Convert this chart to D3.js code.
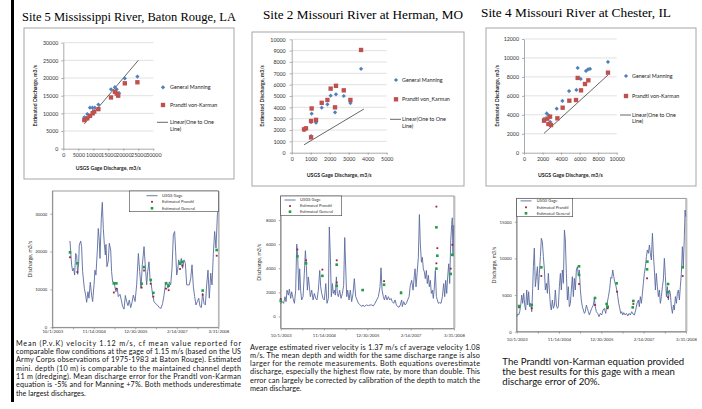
<!DOCTYPE html>
<html>
<head>
<meta charset="utf-8">
<script src="https://cdn.jsdelivr.net/npm/d3@7"></script>
<style>
  body { margin: 0; background: #fff; }
  svg { display: block; }
</style>
</head>
<body>
<script>
// ---- scatter data (gage discharge vs estimated discharge, m3/s) ----
const site5ManningX = [7000, 8000, 8900, 9700, 10500, 9800, 11700, 15900, 17200, 17800, 18600, 20500, 24700];
const site5ManningY = [8900, 9800, 11600, 11600, 11600, 10400, 12500, 16800, 17400, 16800, 15700, 19900, 20400];
const site5PrandtlX = [7000, 8000, 8900, 9800, 10300, 11700, 15900, 17200, 17800, 18300, 20500, 24700];
const site5PrandtlY = [8100, 8600, 9300, 10000, 10500, 11200, 14500, 16100, 15600, 15000, 18500, 18800];
const site5LineX = [7000, 25000];
const site5LineY = [7000, 25000];

const site2GageX = [650, 750, 1020, 1020, 1050, 1280, 1580, 1880, 2050, 2280, 2330, 2740, 3090, 3650];
const site2ManningY = [2000, 2150, 1470, 2700, 3440, 2650, 3970, 4270, 5030, 3560, 5150, 5000, 4380, 7400];
const site2PrandtlY = [2060, 2150, 1350, 2800, 3900, 2900, 4400, 4650, 5650, 4000, 5900, 5500, 4650, 9060];
const site2LineX = [650, 3800];
const site2LineY = [700, 3850];

const site4ManningX = [2160, 2450, 2660, 2840, 3530, 4140, 4860, 5650, 5790, 6120, 6690, 6910, 7120, 9060];
const site4ManningY = [3560, 4150, 3940, 3240, 4650, 5460, 6510, 6620, 8940, 7780, 8630, 8800, 8840, 9580];
const site4PrandtlX = [2160, 2520, 2630, 2810, 2910, 3600, 4170, 4890, 5610, 5790, 6150, 6580, 6940, 9060];
const site4PrandtlY = [3380, 3590, 3030, 3800, 2920, 3630, 4750, 5490, 5560, 7890, 6580, 7250, 7640, 8450];
const site4LineX = [2160, 9060];
const site4LineY = [2040, 8200];

// ---- time series (days after 10/1/2003, discharge m3/s) ----
const seriesTickLabels = ["10/1/2003", "11/14/2004", "12/30/2005", "2/14/2007", "3/31/2008"];

const s5Days = [175, 182, 191, 201, 211, 221, 231, 241, 251, 261,
  267, 281, 290, 300, 317, 330, 340, 353, 363, 376,
  389, 399, 413, 422, 432, 446, 455, 465, 472, 485,
  495, 505, 515, 525, 531, 541, 554, 564, 578, 587,
  597, 611, 620, 630, 644, 653, 670, 683, 696, 710,
  723, 736, 749, 762, 776, 789, 802, 819, 835, 852,
  865, 878, 891, 908, 921, 934, 944, 957, 967, 980,
  993, 1007, 1020, 1040, 1059, 1076, 1092, 1106, 1119, 1132,
  1145, 1158, 1172, 1185, 1198, 1211, 1221, 1231, 1241, 1251,
  1264, 1277, 1290, 1304, 1317, 1330, 1343, 1356, 1370, 1383,
  1396, 1409, 1422, 1436, 1449, 1462, 1475, 1488, 1502, 1515,
  1528, 1541, 1554, 1568, 1581, 1594, 1607, 1620, 1634, 1640];
const s5Flow = [22800, 20000, 16500, 14900, 15600, 13800, 19500, 19000, 14000, 16900,
  21700, 22800, 21300, 14700, 10300, 8500, 6600, 9400, 7700, 11900,
  8500, 6800, 11200, 15100, 13800, 20400, 26100, 23000, 18200, 28800,
  33000, 26100, 21900, 19100, 21900, 16000, 17500, 22200, 20400, 14700,
  12000, 11900, 10700, 9400, 10300, 8100, 8700, 7200, 5500, 4800,
  8400, 6800, 5700, 7200, 5200, 6600, 8500, 6800, 11200, 19500,
  14700, 10300, 16500, 21300, 16000, 11200, 14700, 17300, 12900, 11200,
  8500, 6800, 6300, 5900, 5200, 5000, 6300, 8500, 11200, 12000,
  10300, 12000, 11200, 15600, 24400, 25300, 20000, 13800, 15100, 17800,
  16500, 18200, 15600, 17800, 16900, 11200, 11200, 11200, 12900, 16500,
  10700, 8100, 5900, 6800, 7700, 5500, 5200, 9000, 6300, 5900,
  11200, 15100, 7700, 14300, 11200, 19500, 25300, 20900, 29700, 31000];
const s5MarkDays = [175, 248, 609, 634, 884, 908, 974, 1000, 1125, 1152, 1264, 1287, 1488, 1627];
const s5Prandtl = [18500, 14600, 9200, 10200, 10500, 15000, 11500, 8100, 10200, 9800, 15400, 16300, 8600, 18900];
const s5General = [19800, 16900, 11600, 11600, 11500, 15900, 12500, 9100, 11600, 11000, 16800, 17300, 9700, 20400];

const s2Days = [0, 16, 28, 41, 51, 60, 73, 82, 95, 104,
  117, 130, 142, 152, 161, 171, 180, 190, 199, 212,
  224, 234, 243, 253, 262, 272, 281, 294, 307, 319,
  332, 344, 357, 370, 379, 389, 401, 414, 427, 439,
  452, 461, 471, 480, 490, 499, 509, 518, 528, 537,
  547, 559, 572, 585, 597, 607, 616, 626, 635, 648,
  660, 673, 686, 698, 711, 724, 736, 755, 768, 781,
  793, 812, 831, 847, 863, 878, 894, 910, 926, 942,
  951, 961, 973, 983, 995, 1008, 1021, 1033, 1046, 1058,
  1071, 1084, 1097, 1109, 1122, 1134, 1147, 1153, 1166, 1179,
  1191, 1204, 1217, 1229, 1242, 1255, 1267, 1274, 1283, 1293,
  1305, 1315, 1324, 1334, 1343, 1352, 1362, 1371, 1381, 1390,
  1400, 1409, 1419, 1428, 1438, 1447, 1457, 1466, 1476, 1485,
  1495, 1507, 1520, 1533, 1545, 1555, 1564, 1574, 1583, 1593,
  1602, 1612, 1621, 1627, 1633, 1640];
const s2Flow = [1040, 1230, 1090, 1640, 1230, 2180, 1770, 2270, 1500, 2050,
  1500, 1090, 2180, 6000, 5050, 2180, 3960, 2050, 1370, 1640,
  3550, 5460, 4230, 2180, 3280, 2460, 1640, 2180, 1370, 1910,
  1500, 1370, 2180, 3820, 2460, 1910, 1500, 1370, 2730, 1090,
  1500, 7430, 4910, 1640, 2730, 1910, 2180, 1770, 3280, 1910,
  1640, 2180, 1500, 1910, 2590, 6550, 4100, 1640, 2180, 1370,
  2180, 1230, 1910, 3140, 1640, 1370, 1090, 955, 820, 955,
  820, 955, 900, 955, 955, 870, 1090, 1370, 1640, 2460,
  4040, 2180, 1640, 1370, 1770, 1370, 1640, 1370, 1500, 1230,
  1090, 1370, 955, 820, 765, 955, 1370, 820, 1230, 955,
  1090, 1370, 1640, 2590, 3000, 2180, 3410, 3960, 2460, 3550,
  4910, 8460, 6000, 4500, 4910, 3960, 3690, 3140, 3820, 2730,
  3410, 2460, 3000, 1910, 2180, 1500, 2460, 3820, 1640, 1370,
  1090, 1150, 1090, 1640, 2730, 1640, 3000, 1910, 3280, 4370,
  2730, 6280, 7640, 8190, 5000, 7600];
const s2MarkDays = [0, 158, 240, 395, 531, 531, 777, 980, 1141, 1476, 1476, 1485, 1612, 1627];
const s2Prandtl = [1450, 5560, 4660, 3890, 4660, 2820, 2190, 2930, 2000, 9120, 4410, 5670, 3970, 5950];
const s2General = [1290, 4990, 4410, 3370, 4300, 2550, 2190, 2630, 1950, 7400, 3970, 5040, 3530, 5120];

const s4Days = [0, 10, 19, 29, 39, 49, 58, 68, 78, 87,
  97, 107, 116, 126, 136, 146, 155, 162, 171, 181,
  191, 201, 210, 220, 230, 239, 249, 259, 269, 278,
  288, 298, 307, 317, 327, 336, 346, 356, 366, 375,
  385, 395, 404, 414, 424, 433, 443, 453, 463, 472,
  482, 492, 501, 511, 521, 530, 540, 550, 559, 569,
  579, 589, 598, 608, 618, 627, 637, 647, 657, 666,
  676, 686, 696, 705, 728, 744, 754, 763, 773, 786,
  799, 812, 825, 838, 851, 864, 877, 890, 903, 913,
  922, 932, 942, 951, 961, 971, 981, 990, 1000, 1010,
  1019, 1029, 1039, 1052, 1065, 1078, 1091, 1103, 1116, 1129,
  1142, 1155, 1168, 1181, 1190, 1200, 1210, 1220, 1229, 1239,
  1249, 1259, 1268, 1278, 1288, 1297, 1307, 1317, 1326, 1336,
  1346, 1355, 1365, 1375, 1385, 1394, 1404, 1414, 1423, 1433,
  1443, 1453, 1462, 1472, 1482, 1491, 1501, 1511, 1521, 1530,
  1540, 1550, 1559, 1569, 1579, 1588, 1598, 1608, 1617, 1627,
  1634, 1640];
const s4Flow = [2050, 2410, 2280, 2730, 3640, 5000, 3870, 5230, 3640, 2960,
  5690, 3640, 5460, 3410, 3870, 2730, 5920, 8870, 11400, 6140,
  7510, 8870, 5690, 7960, 10240, 12740, 12290, 10240, 8420, 5690,
  6600, 5230, 7960, 5690, 3640, 2960, 4320, 3190, 3640, 5690,
  3640, 3190, 3410, 6140, 7960, 5690, 8420, 6600, 13880, 12510,
  7960, 4320, 6140, 3410, 3870, 5690, 7510, 4780, 7280, 5690,
  8420, 8870, 7740, 8420, 5690, 4320, 3410, 2960, 2500, 2730,
  3640, 3190, 2730, 2280, 3190, 3640, 4550, 3410, 2730, 2500,
  2050, 2500, 2280, 2960, 3190, 2500, 3870, 4780, 5920, 7420,
  7280, 8420, 7510, 6830, 6370, 5690, 4780, 3870, 3190, 2500,
  2730, 2280, 2600, 2280, 2500, 2150, 2500, 2280, 2730, 2410,
  2280, 2960, 3870, 4320, 3410, 4780, 3870, 5230, 6600, 7960,
  8870, 10240, 11150, 10700, 11830, 10700, 9780, 13420, 10700, 8420,
  5690, 7960, 6140, 4780, 5690, 3870, 4780, 6140, 7050, 10010,
  7510, 4780, 6140, 4320, 5690, 5230, 3410, 2500, 3640, 2960,
  4780, 3870, 5230, 5690, 4320, 6140, 7960, 11600, 8870, 12970,
  16600, 15700];
const s4PrandtlDays = [23, 146, 239, 605, 760, 883, 974, 1132, 1265, 1469, 1611];
const s4Prandtl = [3320, 3190, 7600, 6510, 3640, 3190, 5460, 3780, 7280, 4700, 7600];
const s4GeneralDays = [23, 146, 239, 605, 605, 760, 873, 883, 970, 1126, 1132, 1265, 1268, 1466, 1469, 1611];
const s4General = [3500, 3640, 8780, 8920, 7740, 4600, 3780, 3410, 6600, 3320, 4190, 8510, 9560, 5400, 6500, 8780];

// ---- captions ----
const site5Text = [
  "Mean (P.v.K) velocity 1.12 m/s, cf mean value reported for",
  "comparable flow conditions at the gage of 1.15 m/s (based on the US",
  "Army Corps observations of 1975-1983 at Baton Rouge). Estimated",
  "mini. depth (10 m) is comparable to the maintained channel depth",
  "11 m (dredging). Mean discharge error for the Prandtl von-Karman",
  "equation is -5% and for Manning +7%. Both methods underestimate",
  "the largest discharges."];
const site2Text = [
  "Average estimated river velocity is 1.37 m/s cf average velocity 1.08",
  "m/s. The mean depth and width for the same discharge range is also",
  "larger for the remote measurements. Both equations overestimate",
  "discharge, especially the highest flow rate, by more than double.  This",
  "error can largely be corrected by calibration of the depth to match the",
  "mean discharge."];
const site4Text = [
  "The Prandtl von-Karman equation provided",
  "the best results for this gage with a mean",
  "discharge error of 20%."];

const SANS = "Lato, 'Open Sans', sans-serif";
const SERIF = "'Liberation Serif', 'Times New Roman', serif";
const BLUE = "#4f81bd", RED = "#c0504d";

const svg = d3.select("body").append("svg").attr("width", 702).attr("height", 409);
svg.append("rect").attr("width", 702).attr("height", 409).attr("fill", "#fff");
svg.append("rect").attr("x", 11).attr("y", 0).attr("width", 3).attr("height", 402).attr("fill", "#000");

function styleAxis(a, size) {
  a.selectAll("path,line").attr("stroke", "#868686").attr("stroke-width", 0.7);
  a.selectAll("text").attr("font-size", size).attr("fill", "#333").attr("font-family", SANS);
}

function scatter(c) {
  const g = svg.append("g");
  svg.append("text").attr("x", c.title[0]).attr("y", c.title[1]).attr("font-family", SERIF)
    .attr("font-size", 12.4).attr("fill", "#000")
    .attr("textLength", c.title[3]).attr("lengthAdjust", "spacingAndGlyphs").text(c.title[2]);
  g.append("rect").attr("x", c.box[0]).attr("y", c.box[1]).attr("width", c.box[2]).attr("height", c.box[3])
    .attr("fill", "#fff").attr("stroke", "#a6a6a6").attr("stroke-width", 1);

  const x = d3.scaleLinear().domain(c.xDomain).range(c.xRange);
  const y = d3.scaleLinear().domain(c.yDomain).range(c.yRange);

  g.append("g").selectAll("line").data(c.yTicks.slice(1)).join("line")
    .attr("x1", c.xRange[0]).attr("x2", c.xRange[1])
    .attr("y1", d => y(d)).attr("y2", d => y(d))
    .attr("stroke", "#d9d9d9").attr("stroke-width", 0.8);

  const ya = g.append("g").attr("transform", `translate(${c.xRange[0]},0)`)
    .call(d3.axisLeft(y).tickValues(c.yTicks).tickSize(2).tickSizeOuter(0).tickPadding(c.yPad).tickFormat(d3.format("d")));
  const xa = g.append("g").attr("transform", `translate(0,${c.yRange[0]})`)
    .call(d3.axisBottom(x).tickValues(c.xTicks).tickSize(2).tickSizeOuter(0).tickPadding(3).tickFormat(d3.format("d")));
  styleAxis(ya, 5.3);
  styleAxis(xa, 5.3);

  const ln = d3.line().x(d => x(d[0])).y(d => y(d[1]));
  g.append("path").attr("d", ln(d3.zip(c.lineX, c.lineY)))
    .attr("fill", "none").attr("stroke", "#404040").attr("stroke-width", 0.8);

  const diamond = d3.symbol().type(d3.symbolSquare).size(9);
  const square = d3.symbol().type(d3.symbolSquare).size(19);
  g.append("g").selectAll("path").data(d3.zip(c.manX, c.manY)).join("path")
    .attr("d", diamond).attr("fill", BLUE)
    .attr("transform", d => `translate(${x(d[0])},${y(d[1])}) rotate(45)`);
  g.append("g").selectAll("path").data(d3.zip(c.prX, c.prY)).join("path")
    .attr("d", square).attr("fill", RED)
    .attr("transform", d => `translate(${x(d[0])},${y(d[1])})`);

  // legend
  const L = c.legend;
  g.append("path").attr("d", diamond).attr("fill", BLUE)
    .attr("transform", `translate(${L.mx},${L.rows[0]}) rotate(45)`);
  g.append("path").attr("d", square).attr("fill", RED)
    .attr("transform", `translate(${L.mx},${L.rows[1]})`);
  g.append("line").attr("x1", L.mx - 6).attr("x2", L.mx + 5).attr("y1", L.rows[2]).attr("y2", L.rows[2])
    .attr("stroke", "#404040").attr("stroke-width", 0.8);
  const lt = [c.manName, c.prName, "Linear(One to One"];
  lt.forEach((s, i) => g.append("text").attr("x", L.tx).attr("y", L.rows[i] + 1.8)
    .attr("font-family", SANS).attr("font-size", 5.4).attr("fill", "#222").text(s));
  g.append("text").attr("x", L.tx).attr("y", L.rows[2] + 8.2)
    .attr("font-family", SANS).attr("font-size", 5.4).attr("fill", "#222").text("Line)");

  const ym = (c.yRange[0] + c.yRange[1]) / 2;
  g.append("text").attr("transform", `translate(${c.yTitleX},${ym}) rotate(-90)`)
    .attr("text-anchor", "middle").attr("font-family", SANS).attr("font-weight", "bold")
    .attr("font-size", 5.2).attr("fill", "#222").text("Estimated Discharge, m3/s");
  g.append("text").attr("x", (c.xRange[0] + c.xRange[1]) / 2).attr("y", c.xTitleY)
    .attr("text-anchor", "middle").attr("font-family", SANS).attr("font-weight", "bold")
    .attr("font-size", 5.2).attr("fill", "#222").text("USGS Gage Discharge, m3/s");
}

scatter({
  title: [22, 20.5, "Site 5 Mississippi River, Baton Rouge, LA", 214],
  box: [24, 28, 210, 151],
  xDomain: [0, 30000], xRange: [63.3, 153.3], xTicks: d3.range(0, 30001, 5000),
  yDomain: [0, 30000], yRange: [148.7, 42.7], yTicks: d3.range(0, 30001, 5000), yPad: 3,
  manX: site5ManningX, manY: site5ManningY, prX: site5PrandtlX, prY: site5PrandtlY,
  lineX: site5LineX, lineY: site5LineY,
  manName: "General Manning", prName: "Prandtl von-Karman",
  legend: { mx: 163, tx: 170, rows: [87.3, 105, 122.3] },
  yTitleX: 37, xTitleY: 170
});
scatter({
  title: [263, 18.5, "Site 2 Missouri River at Herman, MO", 200],
  box: [252, 32, 212, 154],
  xDomain: [0, 5000], xRange: [291.7, 386.7], xTicks: d3.range(0, 5001, 1000),
  yDomain: [0, 10000], yRange: [152.7, 39.3], yTicks: d3.range(0, 10001, 1000), yPad: 4,
  manX: site2GageX, manY: site2ManningY, prX: site2GageX, prY: site2PrandtlY,
  lineX: site2LineX, lineY: site2LineY,
  manName: "General Manning", prName: "Prandtl von_Karman",
  legend: { mx: 396, tx: 402, rows: [80, 99.3, 119.3] },
  yTitleX: 263.5, xTitleY: 177
});
scatter({
  title: [481, 17, "Site 4 Missouri River at Chester, IL", 190],
  box: [486, 28, 210, 158],
  xDomain: [0, 10000], xRange: [524, 616.7], xTicks: d3.range(0, 10001, 2000),
  yDomain: [0, 12000], yRange: [152.7, 39], yTicks: d3.range(0, 12001, 2000), yPad: 3,
  manX: site4ManningX, manY: site4ManningY, prX: site4PrandtlX, prY: site4PrandtlY,
  lineX: site4LineX, lineY: site4LineY,
  manName: "General Manning", prName: "Prandtl von-Karman",
  legend: { mx: 626, tx: 632, rows: [76, 96, 115] },
  yTitleX: 498.5, xTitleY: 177
});

// ---- time series ----
const parseDate = d3.timeParse("%m/%d/%Y");
const labelDates = seriesTickLabels.map(parseDate);
const start = labelDates[0], end = labelDates[labelDates.length - 1];
const tickDates = [];
labelDates.forEach((d, i) => {
  tickDates.push(d);
  if (i < labelDates.length - 1) tickDates.push(new Date((+d + +labelDates[i + 1]) / 2));
});
const dayToDate = n => d3.timeDay.offset(start, n);

function series(c) {
  const g = svg.append("g");
  const x = d3.scaleTime().domain([start, end]).range(c.xRange);
  const y = d3.scaleLinear().domain(c.yDomain).range(c.yRange);
  const [x0, x1] = c.xRange, [yb, yt] = c.yRange;

  g.append("rect").attr("x", x0).attr("y", yt).attr("width", x1 - x0).attr("height", yb - yt)
    .attr("fill", "#fff").attr("stroke", "#6f6f6f").attr("stroke-width", 0.7);
  g.append("line").attr("x1", x1 + 0.6).attr("x2", x1 + 0.6).attr("y1", yt).attr("y2", yb)
    .attr("stroke", "#bdbdbd").attr("stroke-width", 1.6);

  const ya = g.append("g").attr("transform", `translate(${x0},0)`)
    .call(d3.axisLeft(y).tickValues(c.yTicks).tickSize(2).tickSizeOuter(0).tickPadding(3).tickFormat(d3.format("d")));
  const xa = g.append("g").attr("transform", `translate(0,${yb})`)
    .call(d3.axisBottom(x).tickValues(tickDates).tickSize(2).tickSizeOuter(0).tickPadding(c.xPad)
      .tickFormat((d, i) => i % 2 ? "" : seriesTickLabels[i / 2]));
  styleAxis(ya, 4.2);
  styleAxis(xa, 4.2);

  const ln = d3.line().x(d => x(dayToDate(d[0]))).y(d => y(d[1]));
  g.append("path").attr("d", ln(d3.zip(c.days, c.flow)))
    .attr("fill", "none").attr("stroke", "#5a6b9f").attr("stroke-width", 0.9)
    .attr("stroke-linejoin", "round");

  g.append("g").selectAll("rect").data(d3.zip(c.pDays, c.pVals)).join("rect")
    .attr("x", d => x(dayToDate(d[0])) - 0.9).attr("y", d => y(d[1]) - 0.9)
    .attr("width", 1.8).attr("height", 1.8).attr("fill", "#9b2040");
  g.append("g").selectAll("rect").data(d3.zip(c.gDays, c.gVals)).join("rect")
    .attr("x", d => x(dayToDate(d[0])) - 1.3).attr("y", d => y(d[1]) - 1.3)
    .attr("width", 2.6).attr("height", 2.6).attr("fill", "#1f9e43");

  const L = c.legend;
  g.append("rect").attr("x", L.x).attr("y", L.y).attr("width", L.w).attr("height", L.h)
    .attr("fill", "#fff").attr("stroke", "#404040").attr("stroke-width", 0.6);
  g.append("line").attr("x1", L.lx - 5.5).attr("x2", L.lx + 5.5).attr("y1", L.rows[0]).attr("y2", L.rows[0])
    .attr("stroke", "#5a6b9f").attr("stroke-width", 0.9);
  g.append("rect").attr("x", L.lx - 0.9).attr("y", L.rows[1] - 0.9).attr("width", 1.8).attr("height", 1.8).attr("fill", "#9b2040");
  g.append("rect").attr("x", L.lx - 1.3).attr("y", L.rows[2] - 1.3).attr("width", 2.6).attr("height", 2.6).attr("fill", "#1f9e43");
  ["USGS Gage", "Estimated Prandtl", "Estimated General"].forEach((s, i) =>
    g.append("text").attr("x", L.tx).attr("y", L.rows[i] + 1.4).attr("font-family", SANS)
      .attr("font-size", 4.1).attr("fill", "#333").text(s));

  g.append("text").attr("transform", `translate(${c.yTitleX},${(yb + yt) / 2}) rotate(-90)`)
    .attr("text-anchor", "middle").attr("font-family", SANS).attr("font-size", 5.2)
    .attr("fill", "#333").text("Discharge, m3/s");
}

series({
  xRange: [52.3, 218.3], yDomain: [0, 36000], yRange: [327.3, 191], yTicks: [0, 10000, 20000, 30000], xPad: 1,
  days: s5Days, flow: s5Flow, pDays: s5MarkDays, pVals: s5Prandtl, gDays: s5MarkDays, gVals: s5General,
  legend: { x: 129.3, y: 191, w: 89, h: 20.7, lx: 152, tx: 162, rows: [195.7, 201.8, 208.3] },
  yTitleX: 32
});
series({
  xRange: [280.7, 454], yDomain: [-1000, 10000], yRange: [328.5, 196], yTicks: [0, 2000, 4000, 6000, 8000], xPad: 4,
  days: s2Days, flow: s2Flow, pDays: s2MarkDays, pVals: s2Prandtl, gDays: s2MarkDays, gVals: s2General,
  legend: { x: 280.7, y: 196, w: 61, h: 19.7, lx: 290, tx: 300, rows: [200, 206, 211.7] },
  yTitleX: 260.5
});
series({
  xRange: [516.7, 686], yDomain: [0, 18200], yRange: [331.7, 198.3], yTicks: [0, 5000, 10000, 15000], xPad: 4.5,
  days: s4Days, flow: s4Flow, pDays: s4PrandtlDays, pVals: s4Prandtl, gDays: s4GeneralDays, gVals: s4General,
  legend: { x: 516.7, y: 198.3, w: 56, h: 18.4, lx: 526, tx: 536.7, rows: [200.9, 207.3, 213.3] },
  yTitleX: 495.5
});

// ---- captions ----
function para(lines, x, y0, lh, size, width) {
  const g = svg.append("g").attr("font-family", SANS).attr("font-size", size).attr("fill", "#111");
  lines.forEach((s, i) => {
    const t = g.append("text").attr("x", x).attr("y", y0 + i * lh).text(s);
    if (width && i < lines.length - 1) t.attr("textLength", width).attr("lengthAdjust", "spacing");
  });
}
para(site5Text, 16, 345.8, 8.3, 7.2, 225);
para(site2Text, 250, 350, 8.15, 7.3, 230);
para(site4Text, 502.3, 365, 10, 9.6, 0);
</script>
</body>
</html>
